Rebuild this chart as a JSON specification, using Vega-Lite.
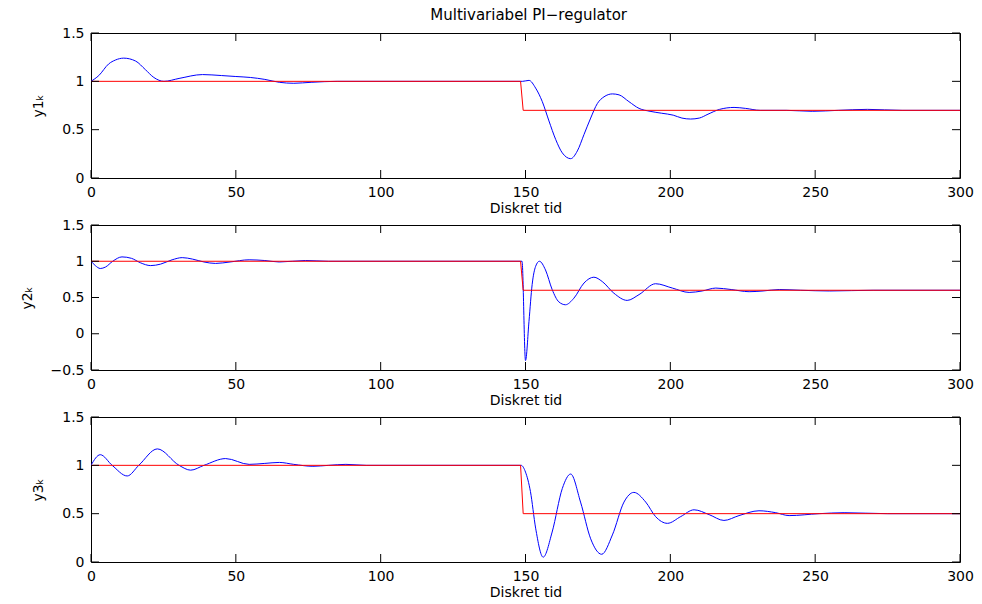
{
  "$schema": "https://vega.github.io/schema/vega-lite/v6.json",
  "background": "white",
  "padding": {"left": 19, "top": 7, "right": 20, "bottom": 5},
  "title": {"text": "Multivariabel PI−regulator", "font": "DejaVu Sans", "fontSize": 15, "fontWeight": "normal", "color": "black", "anchor": "middle", "offset": 3, "dx": 32},
  "datasets": {
    "sim": [
      {"p":0,"s":"xt","t":0},{"p":0,"s":"xt","t":50},{"p":0,"s":"xt","t":100},{"p":0,"s":"xt","t":150},{"p":0,"s":"xt","t":200},{"p":0,"s":"xt","t":250},{"p":0,"s":"xt","t":300},
      {"p":1,"s":"yt","v":0},{"p":1,"s":"yt","v":0.5},{"p":1,"s":"yt","v":1},{"p":1,"s":"yt","v":1.5},
      {"p":2,"s":"yt","v":-0.5},{"p":2,"s":"yt","v":0},{"p":2,"s":"yt","v":0.5},{"p":2,"s":"yt","v":1},{"p":2,"s":"yt","v":1.5},
      {"p":3,"s":"yt","v":0},{"p":3,"s":"yt","v":0.5},{"p":3,"s":"yt","v":1},{"p":3,"s":"yt","v":1.5},

      {"p":1,"s":"r","t":0,"v":1},{"p":1,"s":"r","t":148.3,"v":1},{"p":1,"s":"r","t":149.2,"v":0.7},{"p":1,"s":"r","t":300,"v":0.7},
      {"p":2,"s":"r","t":0,"v":1},{"p":2,"s":"r","t":148.3,"v":1},{"p":2,"s":"r","t":149.2,"v":0.6},{"p":2,"s":"r","t":300,"v":0.6},
      {"p":3,"s":"r","t":0,"v":1},{"p":3,"s":"r","t":148.3,"v":1},{"p":3,"s":"r","t":149.2,"v":0.5},{"p":3,"s":"r","t":300,"v":0.5},

      {"p":1,"s":"y","t":0,"v":1.0},{"p":1,"s":"y","t":2.7,"v":1.06},{"p":1,"s":"y","t":6.1,"v":1.18},{"p":1,"s":"y","t":8.4,"v":1.22},{"p":1,"s":"y","t":11.3,"v":1.24},{"p":1,"s":"y","t":15.4,"v":1.21},{"p":1,"s":"y","t":18.8,"v":1.12},{"p":1,"s":"y","t":21.7,"v":1.04},{"p":1,"s":"y","t":25.2,"v":1.0},{"p":1,"s":"y","t":30.4,"v":1.03},{"p":1,"s":"y","t":38.5,"v":1.07},{"p":1,"s":"y","t":45,"v":1.06},{"p":1,"s":"y","t":50,"v":1.05},{"p":1,"s":"y","t":55,"v":1.04},{"p":1,"s":"y","t":60,"v":1.02},{"p":1,"s":"y","t":65,"v":0.99},{"p":1,"s":"y","t":70,"v":0.98},{"p":1,"s":"y","t":76,"v":0.99},{"p":1,"s":"y","t":85,"v":1.0},{"p":1,"s":"y","t":149,"v":1.0},{"p":1,"s":"y","t":151.2,"v":1.01},{"p":1,"s":"y","t":153.5,"v":0.93},{"p":1,"s":"y","t":155.8,"v":0.79},{"p":1,"s":"y","t":158.1,"v":0.59},{"p":1,"s":"y","t":160.4,"v":0.40},{"p":1,"s":"y","t":162.7,"v":0.26},{"p":1,"s":"y","t":165.6,"v":0.20},{"p":1,"s":"y","t":167.9,"v":0.28},{"p":1,"s":"y","t":170.2,"v":0.45},{"p":1,"s":"y","t":172.5,"v":0.62},{"p":1,"s":"y","t":174.8,"v":0.77},{"p":1,"s":"y","t":177.1,"v":0.84},{"p":1,"s":"y","t":180,"v":0.87},{"p":1,"s":"y","t":182.3,"v":0.86},{"p":1,"s":"y","t":185.7,"v":0.79},{"p":1,"s":"y","t":189.2,"v":0.72},{"p":1,"s":"y","t":193,"v":0.69},{"p":1,"s":"y","t":197,"v":0.67},{"p":1,"s":"y","t":201,"v":0.65},{"p":1,"s":"y","t":204,"v":0.62},{"p":1,"s":"y","t":207,"v":0.61},{"p":1,"s":"y","t":210,"v":0.62},{"p":1,"s":"y","t":213,"v":0.66},{"p":1,"s":"y","t":217,"v":0.71},{"p":1,"s":"y","t":222,"v":0.73},{"p":1,"s":"y","t":226,"v":0.72},{"p":1,"s":"y","t":231,"v":0.70},{"p":1,"s":"y","t":240,"v":0.70},{"p":1,"s":"y","t":249,"v":0.69},{"p":1,"s":"y","t":258,"v":0.70},{"p":1,"s":"y","t":268,"v":0.71},{"p":1,"s":"y","t":280,"v":0.70},{"p":1,"s":"y","t":300,"v":0.70},

      {"p":2,"s":"y","t":0,"v":1.0},{"p":2,"s":"y","t":1.5,"v":0.94},{"p":2,"s":"y","t":3.2,"v":0.90},{"p":2,"s":"y","t":5,"v":0.92},{"p":2,"s":"y","t":7.5,"v":1.0},{"p":2,"s":"y","t":10.7,"v":1.06},{"p":2,"s":"y","t":14,"v":1.04},{"p":2,"s":"y","t":17,"v":0.98},{"p":2,"s":"y","t":20.6,"v":0.94},{"p":2,"s":"y","t":24,"v":0.96},{"p":2,"s":"y","t":28,"v":1.02},{"p":2,"s":"y","t":31.5,"v":1.05},{"p":2,"s":"y","t":35,"v":1.03},{"p":2,"s":"y","t":39,"v":0.99},{"p":2,"s":"y","t":43,"v":0.97},{"p":2,"s":"y","t":48,"v":0.99},{"p":2,"s":"y","t":54.6,"v":1.02},{"p":2,"s":"y","t":60,"v":1.01},{"p":2,"s":"y","t":65,"v":0.99},{"p":2,"s":"y","t":74,"v":1.01},{"p":2,"s":"y","t":82,"v":1.0},{"p":2,"s":"y","t":148.8,"v":1.0},{"p":2,"s":"y","t":150,"v":-0.37},{"p":2,"s":"y","t":151.2,"v":0.17},{"p":2,"s":"y","t":152.3,"v":0.68},{"p":2,"s":"y","t":153.5,"v":0.93},{"p":2,"s":"y","t":154.8,"v":1.0},{"p":2,"s":"y","t":156.9,"v":0.88},{"p":2,"s":"y","t":159.2,"v":0.61},{"p":2,"s":"y","t":161.5,"v":0.44},{"p":2,"s":"y","t":163.8,"v":0.40},{"p":2,"s":"y","t":166.7,"v":0.49},{"p":2,"s":"y","t":170.2,"v":0.70},{"p":2,"s":"y","t":173.6,"v":0.78},{"p":2,"s":"y","t":176.5,"v":0.72},{"p":2,"s":"y","t":180.5,"v":0.56},{"p":2,"s":"y","t":185.1,"v":0.46},{"p":2,"s":"y","t":189.2,"v":0.54},{"p":2,"s":"y","t":194.9,"v":0.69},{"p":2,"s":"y","t":200.7,"v":0.63},{"p":2,"s":"y","t":206.5,"v":0.57},{"p":2,"s":"y","t":211,"v":0.59},{"p":2,"s":"y","t":215.7,"v":0.63},{"p":2,"s":"y","t":221,"v":0.61},{"p":2,"s":"y","t":227.2,"v":0.58},{"p":2,"s":"y","t":232,"v":0.59},{"p":2,"s":"y","t":237.6,"v":0.61},{"p":2,"s":"y","t":245,"v":0.60},{"p":2,"s":"y","t":255,"v":0.59},{"p":2,"s":"y","t":270,"v":0.60},{"p":2,"s":"y","t":300,"v":0.60},

      {"p":3,"s":"y","t":0,"v":1.0},{"p":3,"s":"y","t":3.2,"v":1.11},{"p":3,"s":"y","t":7.3,"v":1.0},{"p":3,"s":"y","t":12.5,"v":0.89},{"p":3,"s":"y","t":16.5,"v":1.0},{"p":3,"s":"y","t":22.9,"v":1.17},{"p":3,"s":"y","t":30.4,"v":1.0},{"p":3,"s":"y","t":34.4,"v":0.95},{"p":3,"s":"y","t":39,"v":1.0},{"p":3,"s":"y","t":46.5,"v":1.07},{"p":3,"s":"y","t":54.6,"v":1.01},{"p":3,"s":"y","t":60,"v":1.02},{"p":3,"s":"y","t":65,"v":1.03},{"p":3,"s":"y","t":70,"v":1.01},{"p":3,"s":"y","t":76.6,"v":0.99},{"p":3,"s":"y","t":82,"v":1.0},{"p":3,"s":"y","t":88,"v":1.01},{"p":3,"s":"y","t":95,"v":1.0},{"p":3,"s":"y","t":148.5,"v":1.0},{"p":3,"s":"y","t":150,"v":0.93},{"p":3,"s":"y","t":151.7,"v":0.73},{"p":3,"s":"y","t":153.5,"v":0.35},{"p":3,"s":"y","t":156.1,"v":0.05},{"p":3,"s":"y","t":159.2,"v":0.31},{"p":3,"s":"y","t":162.7,"v":0.76},{"p":3,"s":"y","t":165.6,"v":0.91},{"p":3,"s":"y","t":169,"v":0.62},{"p":3,"s":"y","t":172.5,"v":0.24},{"p":3,"s":"y","t":176.3,"v":0.08},{"p":3,"s":"y","t":180,"v":0.28},{"p":3,"s":"y","t":184,"v":0.62},{"p":3,"s":"y","t":187.4,"v":0.72},{"p":3,"s":"y","t":191.5,"v":0.62},{"p":3,"s":"y","t":194.9,"v":0.47},{"p":3,"s":"y","t":199,"v":0.40},{"p":3,"s":"y","t":203.6,"v":0.47},{"p":3,"s":"y","t":208.2,"v":0.54},{"p":3,"s":"y","t":213.4,"v":0.49},{"p":3,"s":"y","t":218.5,"v":0.43},{"p":3,"s":"y","t":223.7,"v":0.48},{"p":3,"s":"y","t":230.6,"v":0.53},{"p":3,"s":"y","t":236.4,"v":0.51},{"p":3,"s":"y","t":241,"v":0.48},{"p":3,"s":"y","t":251.4,"v":0.50},{"p":3,"s":"y","t":260,"v":0.51},{"p":3,"s":"y","t":275,"v":0.50},{"p":3,"s":"y","t":300,"v":0.50}
    ]
  },
  "data": {"name": "sim"},
  "bounds": "flush",
  "spacing": 47,
  "vconcat": [
    {
      "width": 869, "height": 145,
      "layer": [
        {
          "transform": [{"filter": "datum.p == 1 && datum.s == 'y'"}],
          "mark": {"type": "line", "color": "#0000ff", "strokeWidth": 1, "interpolate": "monotone", "clip": true},
          "encoding": {
            "x": {"field": "t", "type": "quantitative", "scale": {"domain": [0, 300], "nice": false}, "axis": {"orient": "bottom", "title": "Diskret tid", "values": [0,50,100,150,200,250,300], "format": "d"}},
            "y": {"field": "v", "type": "quantitative", "scale": {"domain": [0, 1.5], "nice": false, "zero": false}, "axis": {"orient": "left", "title": "y1ₖ", "values": [0,0.5,1,1.5], "format": "~g"}}
          }
        },
        {
          "transform": [{"filter": "datum.p == 1 && datum.s == 'r'"}],
          "mark": {"type": "line", "color": "#ff0000", "strokeWidth": 1, "clip": true},
          "encoding": {"x": {"field": "t", "type": "quantitative", "axis": null}, "y": {"field": "v", "type": "quantitative", "axis": null}}
        },
        {
          "transform": [{"filter": "datum.s == 'xt'"}],
          "mark": {"type": "tick", "orient": "vertical", "size": 8, "thickness": 1, "color": "black", "opacity": 1, "yOffset": -4},
          "encoding": {"x": {"field": "t", "type": "quantitative", "axis": null}, "y": {"datum": 0, "type": "quantitative", "axis": null}}
        },
        {
          "transform": [{"filter": "datum.s == 'xt'"}],
          "mark": {"type": "tick", "orient": "vertical", "size": 8, "thickness": 1, "color": "black", "opacity": 1, "yOffset": 4},
          "encoding": {"x": {"field": "t", "type": "quantitative", "axis": null}, "y": {"datum": 1.5, "type": "quantitative", "axis": null}}
        },
        {
          "transform": [{"filter": "datum.p == 1 && datum.s == 'yt'"}],
          "mark": {"type": "tick", "orient": "horizontal", "size": 8, "thickness": 1, "color": "black", "opacity": 1, "xOffset": 4},
          "encoding": {"y": {"field": "v", "type": "quantitative", "axis": null}, "x": {"datum": 0, "type": "quantitative", "axis": null}}
        },
        {
          "transform": [{"filter": "datum.p == 1 && datum.s == 'yt'"}],
          "mark": {"type": "tick", "orient": "horizontal", "size": 8, "thickness": 1, "color": "black", "opacity": 1, "xOffset": -4},
          "encoding": {"y": {"field": "v", "type": "quantitative", "axis": null}, "x": {"datum": 300, "type": "quantitative", "axis": null}}
        }
      ],
      "resolve": {"axis": {"x": "independent", "y": "independent"}}
    },
    {
      "width": 869, "height": 145,
      "layer": [
        {
          "transform": [{"filter": "datum.p == 2 && datum.s == 'y'"}],
          "mark": {"type": "line", "color": "#0000ff", "strokeWidth": 1, "interpolate": "monotone", "clip": true},
          "encoding": {
            "x": {"field": "t", "type": "quantitative", "scale": {"domain": [0, 300], "nice": false}, "axis": {"orient": "bottom", "title": "Diskret tid", "values": [0,50,100,150,200,250,300], "format": "d"}},
            "y": {"field": "v", "type": "quantitative", "scale": {"domain": [-0.5, 1.5], "nice": false, "zero": false}, "axis": {"orient": "left", "title": "y2ₖ", "values": [-0.5,0,0.5,1,1.5], "format": "~g"}}
          }
        },
        {
          "transform": [{"filter": "datum.p == 2 && datum.s == 'r'"}],
          "mark": {"type": "line", "color": "#ff0000", "strokeWidth": 1, "clip": true},
          "encoding": {"x": {"field": "t", "type": "quantitative", "axis": null}, "y": {"field": "v", "type": "quantitative", "axis": null}}
        },
        {
          "transform": [{"filter": "datum.s == 'xt'"}],
          "mark": {"type": "tick", "orient": "vertical", "size": 8, "thickness": 1, "color": "black", "opacity": 1, "yOffset": -4},
          "encoding": {"x": {"field": "t", "type": "quantitative", "axis": null}, "y": {"datum": -0.5, "type": "quantitative", "axis": null}}
        },
        {
          "transform": [{"filter": "datum.s == 'xt'"}],
          "mark": {"type": "tick", "orient": "vertical", "size": 8, "thickness": 1, "color": "black", "opacity": 1, "yOffset": 4},
          "encoding": {"x": {"field": "t", "type": "quantitative", "axis": null}, "y": {"datum": 1.5, "type": "quantitative", "axis": null}}
        },
        {
          "transform": [{"filter": "datum.p == 2 && datum.s == 'yt'"}],
          "mark": {"type": "tick", "orient": "horizontal", "size": 8, "thickness": 1, "color": "black", "opacity": 1, "xOffset": 4},
          "encoding": {"y": {"field": "v", "type": "quantitative", "axis": null}, "x": {"datum": 0, "type": "quantitative", "axis": null}}
        },
        {
          "transform": [{"filter": "datum.p == 2 && datum.s == 'yt'"}],
          "mark": {"type": "tick", "orient": "horizontal", "size": 8, "thickness": 1, "color": "black", "opacity": 1, "xOffset": -4},
          "encoding": {"y": {"field": "v", "type": "quantitative", "axis": null}, "x": {"datum": 300, "type": "quantitative", "axis": null}}
        }
      ],
      "resolve": {"axis": {"x": "independent", "y": "independent"}}
    },
    {
      "width": 869, "height": 145,
      "layer": [
        {
          "transform": [{"filter": "datum.p == 3 && datum.s == 'y'"}],
          "mark": {"type": "line", "color": "#0000ff", "strokeWidth": 1, "interpolate": "monotone", "clip": true},
          "encoding": {
            "x": {"field": "t", "type": "quantitative", "scale": {"domain": [0, 300], "nice": false}, "axis": {"orient": "bottom", "title": "Diskret tid", "values": [0,50,100,150,200,250,300], "format": "d"}},
            "y": {"field": "v", "type": "quantitative", "scale": {"domain": [0, 1.5], "nice": false, "zero": false}, "axis": {"orient": "left", "title": "y3ₖ", "values": [0,0.5,1,1.5], "format": "~g"}}
          }
        },
        {
          "transform": [{"filter": "datum.p == 3 && datum.s == 'r'"}],
          "mark": {"type": "line", "color": "#ff0000", "strokeWidth": 1, "clip": true},
          "encoding": {"x": {"field": "t", "type": "quantitative", "axis": null}, "y": {"field": "v", "type": "quantitative", "axis": null}}
        },
        {
          "transform": [{"filter": "datum.s == 'xt'"}],
          "mark": {"type": "tick", "orient": "vertical", "size": 8, "thickness": 1, "color": "black", "opacity": 1, "yOffset": -4},
          "encoding": {"x": {"field": "t", "type": "quantitative", "axis": null}, "y": {"datum": 0, "type": "quantitative", "axis": null}}
        },
        {
          "transform": [{"filter": "datum.s == 'xt'"}],
          "mark": {"type": "tick", "orient": "vertical", "size": 8, "thickness": 1, "color": "black", "opacity": 1, "yOffset": 4},
          "encoding": {"x": {"field": "t", "type": "quantitative", "axis": null}, "y": {"datum": 1.5, "type": "quantitative", "axis": null}}
        },
        {
          "transform": [{"filter": "datum.p == 3 && datum.s == 'yt'"}],
          "mark": {"type": "tick", "orient": "horizontal", "size": 8, "thickness": 1, "color": "black", "opacity": 1, "xOffset": 4},
          "encoding": {"y": {"field": "v", "type": "quantitative", "axis": null}, "x": {"datum": 0, "type": "quantitative", "axis": null}}
        },
        {
          "transform": [{"filter": "datum.p == 3 && datum.s == 'yt'"}],
          "mark": {"type": "tick", "orient": "horizontal", "size": 8, "thickness": 1, "color": "black", "opacity": 1, "xOffset": -4},
          "encoding": {"y": {"field": "v", "type": "quantitative", "axis": null}, "x": {"datum": 300, "type": "quantitative", "axis": null}}
        }
      ],
      "resolve": {"axis": {"x": "independent", "y": "independent"}}
    }
  ],
  "config": {
    "font": "DejaVu Sans",
    "view": {"stroke": "black", "strokeWidth": 1},
    "axis": {
      "domain": false, "grid": false, "ticks": false,
      "labelFont": "DejaVu Sans", "labelFontSize": 14, "labelColor": "black",
      "labelPadding": 7, "labelFlush": false, "labelOverlap": false, "labelBound": false,
      "titleFont": "DejaVu Sans", "titleFontSize": 14, "titleFontWeight": "normal", "titleColor": "black",
      "titlePadding": 2
    },
    "axisY": {"titlePadding": 16}
  }
}
